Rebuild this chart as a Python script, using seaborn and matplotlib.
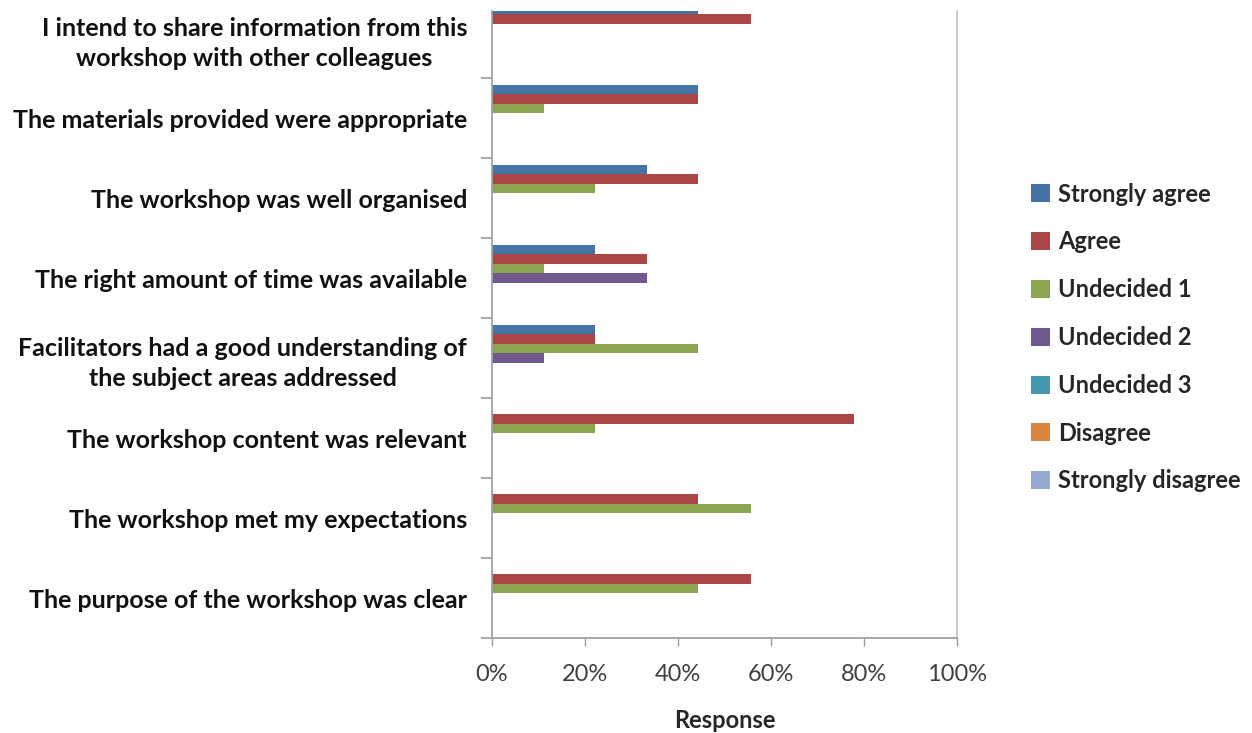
import pandas as pd
import seaborn as sns
import matplotlib.pyplot as plt
from matplotlib.ticker import FixedLocator, PercentFormatter

# categories, top to bottom
statements = [
    "I intend to share information from this\nworkshop with other colleagues",
    "The materials provided were appropriate",
    "The workshop was well organised",
    "The right amount of time was available",
    "Facilitators had a good understanding of\nthe subject areas addressed",
    "The workshop content was relevant",
    "The workshop met my expectations",
    "The purpose of the workshop was clear",
]
responses = ["Strongly agree", "Agree", "Undecided 1", "Undecided 2",
             "Undecided 3", "Disagree", "Strongly disagree"]

# share of respondents (%) per statement
strongly_agree    = [44.4, 44.4, 33.3, 22.2, 22.2, 0.0, 0.0, 0.0]
agree             = [55.6, 44.4, 44.4, 33.3, 22.2, 77.8, 44.4, 55.6]
undecided_1       = [0.0, 11.1, 22.2, 11.1, 44.4, 22.2, 55.6, 44.4]
undecided_2       = [0.0, 0.0, 0.0, 33.3, 11.1, 0.0, 0.0, 0.0]
undecided_3       = [0.0] * 8
disagree          = [0.0] * 8
strongly_disagree = [0.0] * 8

colors = ["#4572A7", "#AA4643", "#89A54E", "#71588F",
          "#4198AF", "#DB843D", "#93A9CF"]

series = [strongly_agree, agree, undecided_1, undecided_2,
          undecided_3, disagree, strongly_disagree]
rows = []
for resp, vals in zip(responses, series):
    for st, v in zip(statements, vals):
        rows.append({"Statement": st, "Response": resp, "Value": v})
df = pd.DataFrame(rows)

sns.set_style("white")
plt.rcParams['font.family'] = ['Lato', 'DejaVu Sans']

fig = plt.figure(figsize=(12.52, 7.33), dpi=100)
ax = fig.add_axes([492 / 1252, 1 - 638 / 733, (957 - 492) / 1252, (638 - 10.5) / 733])

sns.barplot(data=df, x="Value", y="Statement", hue="Response",
            order=statements, hue_order=responses, palette=colors,
            saturation=1, orient="h", width=0.83, linewidth=0, ax=ax, legend=True)

ax.set_xlim(0, 100)
ax.set_ylim(7.5, -0.5 + 12.5 / 80)
ax.xaxis.set_major_formatter(PercentFormatter(decimals=0))
ax.set_xticks([0, 20, 40, 60, 80, 100])
ax.tick_params(axis='x', bottom=True, length=6, width=1, color='#9a9a9a',
               labelsize=17, labelcolor='#404040', pad=13)

ax.set_yticks(range(len(statements)))
ax.set_yticklabels(statements, fontsize=18, fontweight='bold',
                   multialignment='center', linespacing=1.35, color='#111111')
ax.tick_params(axis='y', which='major', length=0, pad=18)
ax.yaxis.set_minor_locator(FixedLocator([i - 0.5 for i in range(len(statements) + 1)]))
ax.tick_params(axis='y', which='minor', left=True, length=8, width=1.2, color='#9a9a9a')

for side in ['left', 'bottom', 'right']:
    ax.spines[side].set_visible(True)
    ax.spines[side].set_color('#a0a0a0')
    ax.spines[side].set_linewidth(1.3)
ax.spines['right'].set_color('#c8c8c8')
ax.spines['top'].set_visible(False)

ax.set_ylabel("")
ax.set_xlabel("Response", fontsize=17, fontweight='bold', labelpad=17)

handles, labels = ax.get_legend_handles_labels()
ax.legend(handles, labels, loc='center left',
          bbox_to_anchor=(1019 / 1252, 1 - 337.5 / 733),
          bbox_transform=fig.transFigure, frameon=False,
          prop={'size': 17, 'weight': 'bold'}, labelspacing=1.05,
          handlelength=0.8, handleheight=0.8, handletextpad=0.35,
          borderpad=0)

fig.savefig("out.png", dpi=100)
